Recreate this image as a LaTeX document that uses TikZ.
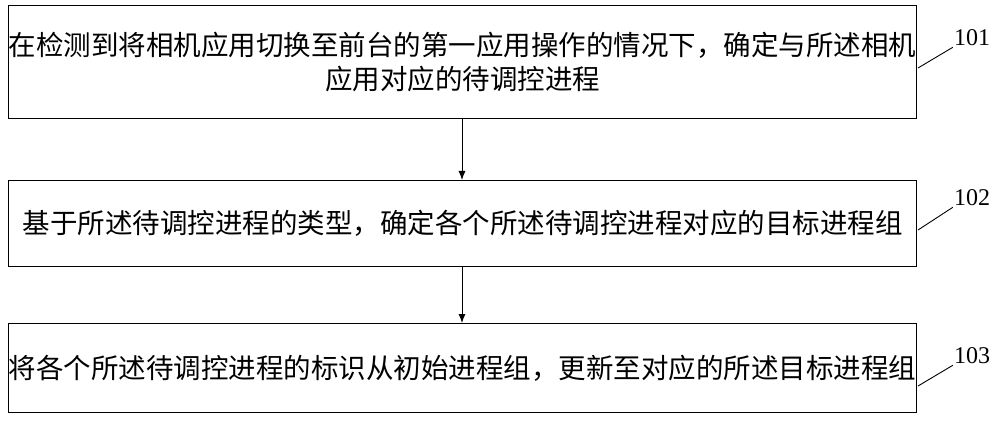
\documentclass[tikz,border=0pt]{standalone}
\usepackage{fontspec}
\usetikzlibrary{arrows.meta}
\setmainfont{Liberation Serif}
\newfontfamily\cjk{Noto Sans CJK SC}
\begin{document}
\begin{tikzpicture}[x=1pt,y=-1pt,
  stepbox/.style={draw,line width=1pt,minimum width=908pt,anchor=north west,inner sep=0pt,font=\cjk\fontsize{27.5}{34}\selectfont,align=center},
  arr/.style={-{Latex[length=9pt,width=7pt]},line width=0.9pt},
  lab/.style={font=\fontsize{24}{28}\selectfont,inner sep=1pt}]
\useasboundingbox (0,0) rectangle (1000,422);
\node[stepbox,minimum height=113pt] (b1) at (8,5) {在检测到将相机应用切换至前台的第一应用操作的情况下，确定与所述相机\\应用对应的待调控进程};
\node[stepbox,minimum height=86pt] (b2) at (8,180) {基于所述待调控进程的类型，确定各个所述待调控进程对应的目标进程组};
\node[stepbox,minimum height=89pt] (b3) at (8,323) {将各个所述待调控进程的标识从初始进程组，更新至对应的所述目标进程组};
\draw[arr] (b1.south -| 462,0) -- (b2.north -| 462,0);
\draw[arr] (b2.south -| 462,0) -- (b3.north -| 462,0);
\node[lab] (l1) at (972,38) {101};
\node[lab] (l2) at (972,198) {102};
\node[lab] (l3) at (972,356) {103};
\coordinate (c1) at (918,68); \coordinate (c2) at (918,230); \coordinate (c3) at (918,386);
\draw[line width=0.9pt] (c1) -- (l1.south west);
\draw[line width=0.9pt] (c2) -- (l2.south west);
\draw[line width=0.9pt] (c3) -- (l3.south west);
\end{tikzpicture}
\end{document}
